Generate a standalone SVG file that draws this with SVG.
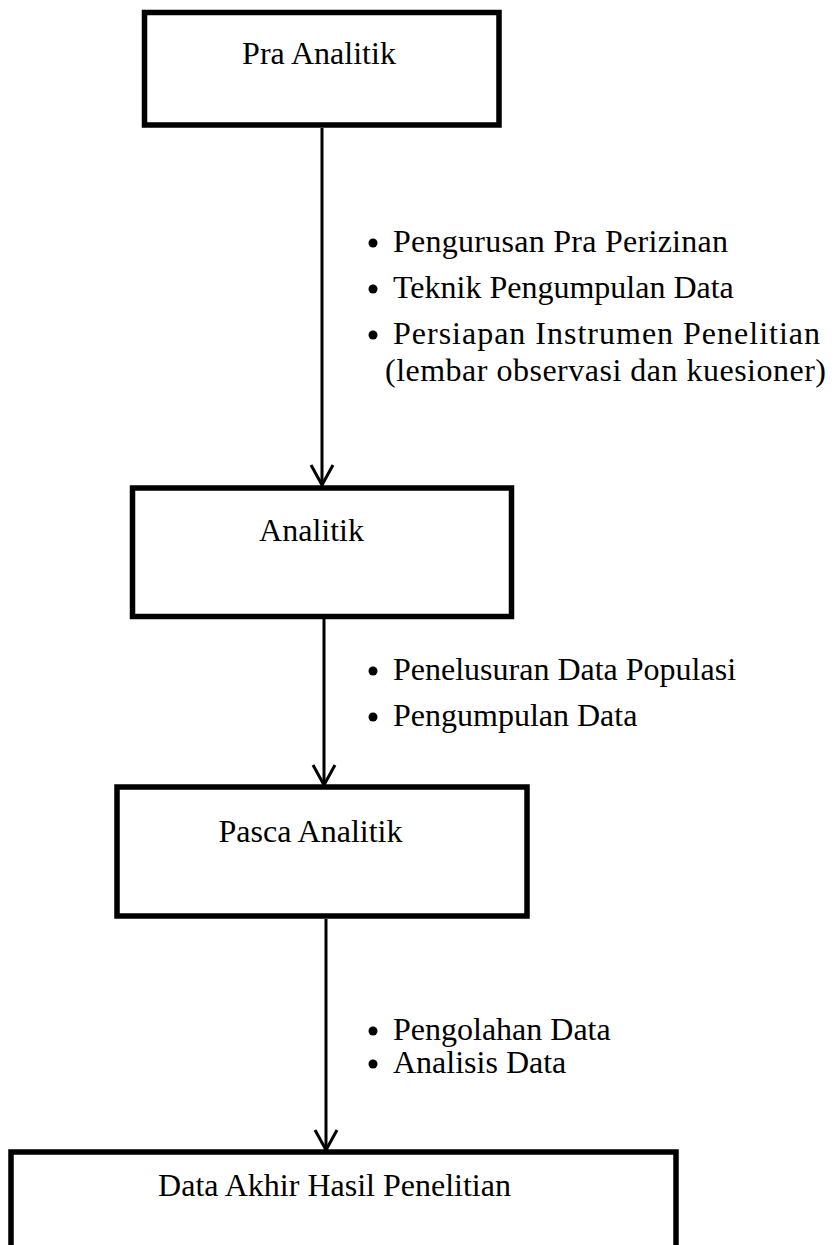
<svg xmlns="http://www.w3.org/2000/svg" width="834" height="1245" viewBox="0 0 834 1245">
<style>
.box{fill:#fff;stroke:#000;stroke-width:5.5}
.t{font-family:"Liberation Serif","Times New Roman",serif;font-size:32px;fill:#000}
.c{text-anchor:middle}
.conn{stroke:#000;stroke-width:3;fill:none}
.dot{fill:#000}
</style>
<defs>
<marker id="arr" viewBox="-24 -13 26 26" refX="0" refY="0" markerWidth="26" markerHeight="26" markerUnits="userSpaceOnUse" orient="auto">
<path d="M-20,-11 L0,0 L-20,11" fill="none" stroke="#000" stroke-width="3"/>
</marker>
</defs>
<rect width="834" height="1245" fill="#fff"/>
<g id="connectors">
<line class="conn" x1="322" y1="128" x2="322" y2="485" marker-end="url(#arr)"/>
<line class="conn" x1="324" y1="619" x2="324" y2="785" marker-end="url(#arr)"/>
<line class="conn" x1="326" y1="919" x2="326" y2="1150" marker-end="url(#arr)"/>
</g>
<g id="pra-analitik">
<rect class="box" x="144.5" y="12.5" width="354.5" height="112.5"/>
<text class="t c" x="319" y="64">Pra Analitik</text>
</g>
<g id="label-1">
<circle class="dot" cx="373" cy="243" r="4.5"/>
<text class="t" x="393" y="252" textLength="335" lengthAdjust="spacing">Pengurusan Pra Perizinan</text>
<circle class="dot" cx="373" cy="289" r="4.5"/>
<text class="t" x="393" y="298">Teknik Pengumpulan Data</text>
<circle class="dot" cx="373" cy="335" r="4.5"/>
<text class="t" x="393" y="344" textLength="427" lengthAdjust="spacing">Persiapan Instrumen Penelitian</text>
<text class="t" x="385" y="381" textLength="441" lengthAdjust="spacing">(lembar observasi dan kuesioner)</text>
</g>
<g id="analitik">
<rect class="box" x="132.5" y="488" width="379" height="128.5"/>
<text class="t c" x="311.5" y="541">Analitik</text>
</g>
<g id="label-2">
<circle class="dot" cx="373" cy="671" r="4.5"/>
<text class="t" x="393" y="680">Penelusuran Data Populasi</text>
<circle class="dot" cx="373" cy="717" r="4.5"/>
<text class="t" x="393" y="726">Pengumpulan Data</text>
</g>
<g id="pasca-analitik">
<rect class="box" x="117" y="787" width="410" height="129"/>
<text class="t c" x="310.5" y="842">Pasca Analitik</text>
</g>
<g id="label-3">
<circle class="dot" cx="373" cy="1031" r="4.5"/>
<text class="t" x="393" y="1040">Pengolahan Data</text>
<circle class="dot" cx="373" cy="1064" r="4.5"/>
<text class="t" x="393" y="1073">Analisis Data</text>
</g>
<g id="data-akhir">
<rect class="box" x="11" y="1152" width="665" height="130"/>
<text class="t c" x="334.5" y="1196">Data Akhir Hasil Penelitian</text>
</g>
</svg>
